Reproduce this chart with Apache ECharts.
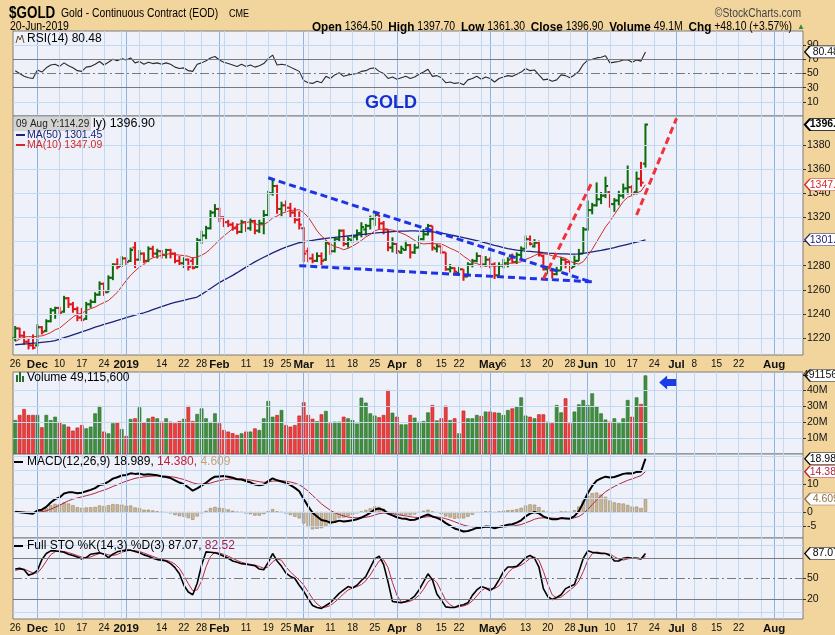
<!DOCTYPE html>
<html>
<head>
<meta charset="utf-8">
<title>$GOLD</title>
<script src="https://cdn.jsdelivr.net/npm/echarts@6/dist/echarts.min.js"></script>
<style>
  html, body { margin: 0; padding: 0; background: #f2d59c; }
  #chart { width: 835px; height: 635px; }
</style>
</head>
<body>
<div id="chart"></div>
<script>
// trading calendar
const FIRST_DAY = '2018-11-26'
const LAST_DAY = '2019-08-09'
const CLOSED = ['2018-12-25', '2019-01-01', '2019-01-21', '2019-02-18', '2019-04-19', '2019-05-27', '2019-07-04']

// x-axis tick labels
const monthTicks = [['2018-12-03', 'Dec'], ['2019-01-02', '2019'], ['2019-02-01', 'Feb'], ['2019-03-01', 'Mar'],
  ['2019-04-01', 'Apr'], ['2019-05-01', 'May'], ['2019-06-03', 'Jun'], ['2019-07-01', 'Jul'], ['2019-08-01', 'Aug']]
const dayTicks = [['2018-11-26', '26'], ['2018-12-10', '10'], ['2018-12-17', '17'], ['2018-12-24', '24'],
  ['2019-01-14', '14'], ['2019-01-22', '22'], ['2019-01-28', '28'], ['2019-02-11', '11'], ['2019-02-19', '19'],
  ['2019-02-25', '25'], ['2019-03-11', '11'], ['2019-03-18', '18'], ['2019-03-25', '25'], ['2019-04-08', '8'],
  ['2019-04-15', '15'], ['2019-04-22', '22'], ['2019-05-06', '6'], ['2019-05-13', '13'], ['2019-05-20', '20'],
  ['2019-05-28', '28'], ['2019-06-10', '10'], ['2019-06-17', '17'], ['2019-06-24', '24'], ['2019-07-08', '8'],
  ['2019-07-15', '15'], ['2019-07-22', '22']]

// y-axis tick labels
const rsiTicks = [10, 30, 50, 70, 90]
const priceTicks = [1220, 1240, 1260, 1280, 1300, 1320, 1340, 1360, 1380]
const volumeTicks = [10, 20, 30, 40]
const macdTicks = [-5, 0, 10]
const stoTicks = [20, 50]

// daily bars
const open = [1220, 1228, 1222, 1217, 1214, 1214, 1229, 1226, 1234, 1243,
  1245, 1242, 1253, 1248, 1244, 1237, 1236, 1248, 1250, 1256,
  1265, 1258, 1270, 1281, 1280, 1286, 1284, 1295, 1285, 1290,
  1284, 1294, 1290, 1292, 1289, 1293, 1290, 1284, 1282, 1285,
  1284, 1279, 1301, 1305, 1311, 1324, 1327, 1320, 1316, 1314,
  1311, 1308, 1316, 1311, 1317, 1309, 1315, 1322, 1340, 1346,
  1327, 1330, 1328, 1324, 1318, 1311, 1292, 1286, 1284, 1288,
  1285, 1298, 1292, 1302, 1309, 1298, 1301, 1304, 1307, 1310,
  1313, 1319, 1322, 1315, 1310, 1295, 1298, 1291, 1293, 1297,
  1291, 1295, 1302, 1306, 1313, 1294, 1296, 1291, 1277, 1278,
  1274, 1277, 1271, 1281, 1284, 1288, 1281, 1285, 1281, 1272,
  1280, 1282, 1286, 1283, 1289, 1294, 1302, 1296, 1299, 1288,
  1277, 1276, 1273, 1276, 1285, 1283, 1279, 1284, 1290, 1310,
  1326, 1330, 1335, 1338, 1341, 1331, 1334, 1338, 1344, 1345,
  1341, 1352, 1364.5]
const high = [1230, 1228.6, 1225.8, 1220, 1223, 1231.4, 1230, 1235.6, 1245, 1246,
  1246, 1255, 1254, 1250, 1246, 1245, 1250, 1252, 1258, 1267,
  1266, 1272, 1282, 1286, 1288, 1287, 1295, 1300, 1293, 1291,
  1296, 1296.5, 1294, 1293, 1294, 1294, 1291, 1288, 1287, 1286,
  1287, 1303, 1309, 1313, 1326, 1331, 1328, 1321, 1318, 1316,
  1315, 1318, 1317, 1319, 1318, 1318, 1326, 1342, 1351, 1347,
  1333, 1334, 1332, 1328, 1325, 1312, 1295, 1290, 1291, 1291,
  1301, 1299, 1303.5, 1310, 1310, 1304, 1306, 1310, 1316, 1314.6,
  1321.5, 1324.5, 1322, 1317, 1310, 1303.5, 1298, 1296.5, 1300.7, 1298,
  1298, 1305, 1310.4, 1314.6, 1313, 1298, 1296.5, 1291, 1281.4, 1278.6,
  1279, 1277, 1282.8, 1285.6, 1291, 1288, 1288, 1287, 1282.8, 1282.8,
  1285.6, 1287, 1290, 1291, 1296, 1305, 1305, 1302, 1300.8, 1289,
  1280, 1278, 1279, 1287, 1285.6, 1283, 1288.3, 1293.9, 1312, 1334,
  1332, 1349, 1341, 1353.7, 1341, 1336, 1342, 1348, 1363, 1346.7,
  1358, 1366, 1397.7]
const low = [1217.5, 1220, 1214.7, 1210.6, 1210.6, 1213, 1223, 1225, 1233, 1236,
  1239, 1241, 1245, 1241, 1234, 1234, 1235, 1245, 1249, 1255,
  1255, 1258, 1268, 1277, 1279, 1280, 1283, 1278, 1284, 1282,
  1283, 1287, 1286, 1286, 1286, 1286, 1282, 1280, 1278, 1276,
  1277, 1278, 1298, 1302, 1310, 1320, 1316, 1312, 1312, 1309,
  1306, 1307, 1308, 1309, 1306, 1307, 1306, 1321, 1338, 1323,
  1321, 1325, 1320, 1315, 1310, 1283, 1283, 1282, 1283, 1280,
  1284, 1289, 1291, 1300, 1296, 1295, 1299, 1301, 1303.5, 1305,
  1310, 1313, 1310, 1306, 1292, 1291, 1289.7, 1289.7, 1292.4, 1286,
  1289.7, 1295, 1301, 1305, 1292.4, 1291, 1289.7, 1275.8, 1274.4, 1273,
  1272, 1267.5, 1271, 1278.6, 1282.8, 1278.6, 1279, 1277.8, 1269, 1272,
  1277.8, 1278.6, 1282, 1281.4, 1285, 1294, 1296.8, 1295, 1287.6, 1276,
  1273, 1269.4, 1272, 1276, 1277.8, 1274.4, 1279, 1284, 1290, 1309,
  1322.6, 1329, 1331, 1336, 1328, 1324.6, 1330, 1335.6, 1339, 1338,
  1339, 1345.6, 1361.3]
const close = [1228, 1222, 1217, 1214, 1212, 1229, 1225, 1234, 1243, 1245,
  1241, 1253, 1248, 1244, 1237, 1235, 1248, 1250, 1256, 1265,
  1258, 1270, 1281, 1279, 1286, 1283, 1293, 1285, 1290, 1284,
  1294, 1290, 1292, 1289, 1293, 1290, 1284, 1282, 1285, 1279,
  1278, 1301, 1305, 1311, 1324, 1327, 1320, 1316, 1314, 1311,
  1308, 1316, 1311, 1317, 1309, 1315, 1322, 1340, 1346, 1327,
  1330, 1328, 1324, 1318, 1314, 1290, 1286, 1284, 1288, 1284,
  1299, 1292, 1302, 1309, 1298, 1302, 1304, 1307, 1312, 1313,
  1319, 1322, 1315, 1310, 1295, 1298, 1292, 1294, 1297, 1291,
  1295, 1302, 1306, 1313, 1295, 1296, 1291, 1277, 1278, 1275,
  1277, 1271, 1281, 1284, 1288, 1281, 1285, 1281, 1272, 1280,
  1282, 1285, 1283, 1289, 1294, 1302, 1298, 1299, 1289, 1277,
  1278, 1273, 1276, 1285, 1283, 1278, 1284, 1290, 1310, 1326,
  1330, 1335, 1338, 1346, 1331, 1334, 1338, 1344, 1345, 1340,
  1352, 1348.8, 1396.9]
const ma50 = [1214.5, 1214.8, 1215.1, 1215.4, 1215.8, 1216.1, 1216.5, 1216.9, 1217.3,
  1218.0, 1219.2, 1220.3, 1221.5, 1222.7, 1223.9,
  1225.1, 1226.4, 1227.7, 1229.0, 1230.1, 1231.3, 1232.4,
  1233.5, 1234.6, 1235.8, 1237.0, 1238.1, 1239.1, 1240.0, 1241.0,
  1242.2, 1243.6, 1244.9, 1246.1, 1247.3, 1248.5,
  1249.5, 1250.4, 1251.3, 1252.2, 1253.1, 1254.0,
  1256.2, 1258.6, 1261.1, 1263.6, 1266.0, 1268.0, 1270.0, 1272.0,
  1274.2, 1276.5, 1278.8, 1281.0, 1283.1, 1285.1, 1287.0,
  1288.8, 1290.6, 1292.3, 1293.9, 1295.3, 1296.6, 1297.8, 1299.0,
  1299.7, 1300.4, 1301.0, 1301.6, 1302.1, 1302.6, 1303.0,
  1303.4, 1303.8, 1304.2, 1304.6, 1305.0, 1305.4, 1305.8, 1306.2, 1306.6, 1307.0, 1307.3, 1307.6, 1307.9, 1308.2, 1308.4, 1308.6,
  1308.7, 1308.8, 1308.8, 1308.7, 1308.5, 1308.3, 1308.0,
  1307.6, 1307.0, 1306.3, 1305.6, 1304.8, 1304.0, 1303.2, 1302.4, 1301.6, 1300.8,
  1299.8, 1298.8, 1297.8, 1296.8, 1295.9, 1295.0, 1294.2, 1293.5, 1292.9, 1292.5,
  1292.1, 1291.8, 1291.5, 1291.2,
  1290.7, 1290.4, 1290.2, 1290.0, 1289.8, 1289.7, 1289.6, 1289.6, 1289.7,
  1290.2, 1290.8, 1291.4, 1292.0, 1292.6,
  1293.4, 1294.2, 1295.0,
  1295.9, 1296.8, 1297.7, 1298.6,
  1299.5, 1300.4, 1301.45]
const ma10 = [1217.1, 1219.2, 1220.9, 1221.3, 1221.0, 1221.6, 1221.8, 1223.0, 1224.6, 1226.9,
  1228.2, 1231.3, 1234.4, 1237.4, 1239.9, 1240.5, 1242.8, 1244.4, 1245.7, 1247.7,
  1249.4, 1251.1, 1254.4, 1257.9, 1262.8, 1267.6, 1272.1, 1275.6, 1279.0, 1280.9,
  1284.5, 1286.5, 1287.6, 1288.6, 1289.3, 1290.0, 1289.1, 1288.8, 1288.3, 1287.8,
  1286.2, 1287.3, 1288.6, 1290.8, 1293.9, 1297.6, 1301.2, 1304.6, 1307.5, 1310.7,
  1313.7, 1315.2, 1315.8, 1316.4, 1314.9, 1313.7, 1313.9, 1316.3, 1319.5, 1321.1,
  1323.3, 1324.5, 1325.8, 1325.9, 1326.4, 1323.9, 1320.3, 1314.7, 1308.9, 1304.6,
  1301.5, 1297.9, 1295.7, 1294.8, 1293.2, 1294.4, 1296.2, 1298.5, 1300.9, 1303.8,
  1305.8, 1308.8, 1310.1, 1310.2, 1309.9, 1309.5, 1308.3, 1307.0, 1305.5, 1303.3,
  1300.9, 1298.9, 1298.0, 1298.3, 1298.3, 1298.1, 1298.0, 1296.3, 1294.4, 1292.8,
  1291.0, 1287.9, 1285.4, 1282.5, 1281.8, 1280.3, 1279.7, 1280.1, 1279.5, 1280.0,
  1280.5, 1281.9, 1282.1, 1282.6, 1283.2, 1285.3, 1286.6, 1288.4, 1290.1, 1289.8,
  1289.4, 1288.2, 1287.5, 1287.1, 1286.0, 1283.6, 1282.2, 1281.3, 1283.4, 1288.3,
  1293.5, 1299.7, 1305.9, 1312.0, 1316.8, 1322.4, 1327.8, 1333.2, 1336.7, 1338.1,
  1340.3, 1341.7, 1347.09]

// volume in millions
const volume = [21.2, 24.4, 28.1, 24.4, 24.4, 24.4, 16.7, 24.4, 21.2, 23.3,
  20.0, 18.5, 17.1, 14.6, 16.5, 18.1, 16.0, 17.1, 25.4, 30.0,
  14.0, 12.9, 19.2, 19.8, 15.6, 11.2, 21.9, 22.3, 29.2, 19.8,
  22.3, 23.3, 22.3, 20.2, 22.3, 20.2, 19.2, 20.6, 22.0, 30.0,
  20.6, 25.0, 28.5, 22.3, 20.0, 25.4, 19.2, 15.0, 14.0, 13.0,
  11.9, 12.9, 14.0, 14.0, 16.0, 15.0, 22.3, 33.1, 23.3, 24.4,
  27.5, 18.1, 17.1, 18.1, 24.0, 32.3, 24.4, 22.0, 20.5, 24.8,
  26.9, 19.2, 20.2, 20.2, 23.3, 22.3, 21.2, 19.0, 35.2, 32.1,
  25.4, 24.0, 23.0, 24.4, 40.0, 25.8, 23.3, 18.5, 18.5, 24.4,
  22.7, 20.2, 20.6, 26.0, 30.6, 21.0, 22.3, 30.2, 21.2, 22.3,
  12.9, 27.1, 22.3, 22.3, 24.4, 23.75, 26.5, 26.5, 26.0, 25.8,
  24.4, 27.5, 28.5, 29.5, 35.4, 24.0, 23.3, 22.3, 24.8, 24.8,
  20.2, 19.2, 30.6, 26.0, 34.8, 19.2, 26.5, 31.0, 33.75, 30.6,
  37.9, 29.6, 25.4, 21.5, 20.2, 22.3, 19.2, 22.3, 33.75, 23.3,
  35.4, 31.25, 49.1156]

// indicators
const rsi = [54, 50, 46, 44, 43, 55, 52, 58, 62, 63,
  60, 65, 61, 58, 54, 53, 59, 60, 63, 67,
  62, 66, 70, 68, 71, 69, 72, 65, 67, 63,
  66, 64, 65, 63, 65, 63, 59, 57, 58, 54,
  53, 63, 65, 68, 72, 74, 69, 66, 64, 62,
  60, 63, 60, 62, 59, 61, 64, 71, 76, 62,
  63, 62, 59, 56, 53, 40, 37, 36, 39, 37,
  46, 43, 48, 51, 46, 48, 49, 50, 53, 54,
  57, 58, 53, 50, 43, 45, 42, 44, 46, 43,
  45, 49, 52, 56, 46, 47, 44, 37, 38, 36,
  37, 34, 41, 43, 46, 42, 45, 43, 38, 43,
  45, 47, 46, 49, 52, 57, 54, 55, 48, 41,
  42, 39, 41, 48, 47, 44, 48, 53, 63, 69,
  70, 72, 73, 75, 65, 66, 67, 69, 69.5, 66,
  69, 67.5, 80.48]
const macd = [0.1, -0.1, -0.3, -0.5, -0.6, 0.5, 0.8, 1.8, 3.4, 4.6,
  5.2, 6.6, 7.0, 7.0, 6.7, 6.9, 7.4, 7.9, 8.5, 9.6,
  9.9, 10.8, 11.9, 12.4, 13.0, 13.2, 13.8, 13.6, 13.7, 13.3,
  13.5, 13.3, 13.1, 12.7, 12.5, 12.1, 11.3, 10.5, 9.9, 8.8,
  7.6, 8.4, 9.4, 10.4, 11.7, 12.6, 12.7, 12.8, 12.6, 12.2,
  11.7, 11.6, 11.0, 10.6, 9.8, 9.5, 9.8, 11.0, 12.0, 11.3,
  10.9, 10.4, 9.6, 8.6, 7.4, 4.6, 2.0, -0.3, -1.6, -2.9,
  -3.2, -3.8, -3.6, -3.1, -3.4, -3.2, -3.0, -2.6, -2.0, -1.2,
  -0.3, 0.9, 1.2, 0.7, -0.6, -1.2, -1.9, -2.3, -2.4, -2.9,
  -2.8, -2.2, -1.5, -0.9, -1.6, -2.1, -2.8, -4.0, -4.9, -5.9,
  -6.4, -7.0, -6.8, -6.3, -5.7, -5.6, -5.2, -5.3, -5.8, -5.4,
  -5.0, -4.6, -4.4, -3.8, -3.0, -1.6, -0.6, 0.0, -0.5, -1.6,
  -2.2, -2.6, -2.6, -2.2, -2.3, -2.4, -1.5, 0.3, 3.4, 6.7,
  9.3, 11.2, 12.0, 12.6, 12.3, 12.5, 13.0, 13.6, 13.8, 13.7,
  14.3, 14.4, 18.989]
const macdSignal = [0.0, 0.0, -0.1, -0.1, -0.2, -0.1, 0.1, 0.4, 1.0, 1.7,
  2.4, 3.2, 4.0, 4.6, 5.0, 5.4, 5.8, 6.2, 6.7, 7.3,
  7.8, 8.4, 9.1, 9.7, 10.4, 11.0, 11.5, 12.0, 12.3, 12.5,
  12.7, 12.8, 12.9, 12.8, 12.8, 12.6, 12.4, 12.0, 11.6, 11.0,
  10.4, 10.0, 9.9, 10.0, 10.3, 10.8, 11.2, 11.5, 11.7, 11.8,
  11.8, 11.8, 11.6, 11.4, 11.1, 10.8, 10.6, 10.7, 11.0, 11.1,
  11.1, 11.0, 10.7, 10.3, 9.7, 8.7, 7.4, 5.9, 4.4, 2.9,
  1.7, 0.6, -0.3, -0.9, -1.4, -1.8, -2.0, -2.1, -2.1, -1.9,
  -1.6, -1.1, -0.6, -0.4, -0.4, -0.6, -0.9, -1.2, -1.4, -1.7,
  -1.9, -2.0, -1.9, -1.7, -1.7, -1.8, -2.0, -2.4, -2.9, -3.5,
  -4.1, -4.7, -5.1, -5.3, -5.4, -5.4, -5.4, -5.4, -5.5, -5.5,
  -5.4, -5.2, -5.1, -4.8, -4.5, -3.9, -3.3, -2.6, -2.2, -2.1,
  -2.1, -2.2, -2.3, -2.3, -2.3, -2.3, -2.1, -1.6, -0.6, 0.9,
  2.6, 4.3, 5.8, 7.2, 8.2, 9.1, 9.9, 10.6, 11.3, 11.8,
  12.4, 13.0, 14.38]
const macdHist = [0.1, -0.1, -0.2, -0.4, -0.4, 0.6, 0.7, 1.4, 2.4, 2.9,
  2.8, 3.4, 3.0, 2.4, 1.7, 1.5, 1.6, 1.7, 1.8, 2.3,
  2.1, 2.4, 2.8, 2.7, 2.6, 2.2, 2.3, 1.6, 1.4, 0.8,
  0.8, 0.5, 0.2, -0.1, -0.3, -0.5, -1.1, -1.5, -1.7, -2.2,
  -2.8, -1.6, -0.5, 0.4, 1.4, 1.8, 1.5, 1.3, 0.9, 0.4,
  -0.1, -0.2, -0.6, -0.8, -1.3, -1.3, -0.8, 0.3, 1.0, 0.2,
  -0.2, -0.6, -1.1, -1.7, -2.3, -4.1, -5.4, -6.2, -6.0, -5.8,
  -4.9, -4.4, -3.3, -2.2, -2.0, -1.4, -1.0, -0.5, 0.1, 0.7,
  1.3, 2.0, 1.8, 1.1, -0.2, -0.6, -1.0, -1.1, -1.0, -1.2,
  -0.9, -0.2, 0.4, 0.8, 0.1, -0.3, -0.8, -1.6, -2.0, -2.4,
  -2.3, -2.3, -1.7, -1.0, -0.3, -0.2, 0.2, 0.1, -0.3, 0.1,
  0.4, 0.6, 0.7, 1.0, 1.5, 2.3, 2.7, 2.6, 1.7, 0.5,
  -0.1, -0.4, -0.3, 0.1, 0.0, -0.1, 0.6, 1.9, 4.0, 5.8,
  6.7, 6.9, 6.2, 5.4, 4.1, 3.4, 3.1, 3.0, 2.5, 1.9,
  1.9, 1.4, 4.609]
const stoK = [64, 65, 63, 55, 57, 62, 78, 87, 91, 91,
  90, 89, 86, 84, 82, 79, 81, 86, 87, 88,
  86, 81, 86, 89.5, 91, 92, 92, 90, 88, 85,
  83, 80, 78, 77, 76, 72, 66, 57, 40, 30,
  26, 43, 70, 89.5, 89, 88, 86, 83, 80, 76,
  74, 72, 71, 70, 69, 64, 63, 74, 87, 76,
  68, 58, 53, 50, 40, 31, 20, 10, 7, 5.7,
  10, 14, 21, 28, 33, 38, 36, 40, 47, 53,
  66, 79, 83, 71, 45, 16, 15, 14, 16, 19,
  24, 33, 45, 57, 48, 27, 18, 8, 7, 7,
  10, 11, 14, 25, 33, 38, 36, 32, 37, 48,
  60, 67, 67, 68, 74, 81, 84, 80, 67, 35,
  23, 19, 22, 26, 35, 38, 41, 60, 80, 91,
  89, 88, 87, 87, 84, 76, 76, 80, 81, 80,
  80, 79, 87.07]
const stoD = [62, 63.5, 64, 61, 58.3, 58, 65.7, 75.7, 85.3, 89.7,
  90.7, 90, 88.3, 86.3, 84, 81.7, 80.7, 82, 84.7, 87,
  87, 85, 84.3, 85.5, 88.8, 90.8, 91.7, 91.3, 90, 87.7,
  85.3, 82.7, 80.3, 78.3, 77, 75, 71.3, 65, 54.3, 42.3,
  32, 33, 46.3, 67.5, 82.8, 88.8, 87.7, 85.7, 83, 79.7,
  76.7, 74, 72.3, 71, 70, 67.7, 65.3, 67, 74.7, 79,
  77, 67.3, 59.7, 53.7, 47.7, 40.3, 30.3, 20.3, 12.3, 7.6,
  7.6, 9.9, 15, 21, 27.3, 33, 35.7, 38, 41, 46.7,
  55.3, 66, 76, 77.7, 66.3, 44, 25.3, 15, 15, 16.3,
  19.7, 25.3, 34, 45, 50, 44, 31, 17.7, 11, 7.3,
  8, 9.3, 11.7, 16.7, 24, 32, 35.7, 35.3, 35, 39,
  48.3, 58.3, 64.7, 67.3, 69.7, 74.3, 79.7, 81.7, 77, 60.7,
  41.7, 25.7, 21.3, 22.3, 27.7, 33, 38, 46.3, 60.3, 77,
  86.7, 89.3, 88, 87.3, 86, 82.3, 78.7, 77.3, 79, 80.3,
  80.3, 79.7, 82.52]

// hand-drawn trend lines: [from date, from price, to date, to price]
const blueTrends = [['2019-02-19', 1352.8, '2019-06-04', 1266.2], ['2019-02-28', 1280, '2019-06-04', 1266.6]]
const redTrends = [['2019-05-17', 1269, '2019-06-04', 1349.4], ['2019-06-18', 1322, '2019-07-01', 1402]]
const arrowAt = ['2019-06-27', 44.7]

const SANS = '"Liberation Sans", Arial, sans-serif'
const PLOT_BG = '#eff1fa'
const BORDER = '#7c7c7c'
const WEEK_LINE = '#c3d9ef'
const MONTH_LINE = '#8fb5de'
const LEVEL_LINE = '#7a7a7a'
const GREEN = '#0b6b0b'
const RED = '#e0161b'

function tradingDays(first, last, closed) {
  const out = []
  const end = Date.parse(last + 'T00:00:00Z')
  for (let t = Date.parse(first + 'T00:00:00Z'); t <= end; t += 86400000) {
    const d = new Date(t)
    const s = d.toISOString().slice(0, 10)
    if (d.getUTCDay() === 0 || d.getUTCDay() === 6 || closed.includes(s)) continue
    out.push(s)
  }
  return out
}

const dates = tradingDays(FIRST_DAY, LAST_DAY, CLOSED)
const lastDate = dates[dates.length - 1]
const weekOf = s => Math.floor((Date.parse(s + 'T00:00:00Z') / 86400000 + 3) / 7)
const monthStarts = dates.filter((d, i) => i > 0 && d.slice(5, 7) !== dates[i - 1].slice(5, 7))
const weekStarts = dates.filter((d, i) => i > 0 && weekOf(d) !== weekOf(dates[i - 1]) && !monthStarts.includes(d))

const labelText = {}
monthTicks.forEach(([d, t]) => { labelText[d] = '{m|' + t + '}' })
dayTicks.forEach(([d, t]) => { labelText[d] = '{d|' + t + '}' })

const isUp = i => (i === 0 ? close[0] >= open[0] : close[i] >= close[i - 1])
const last = arr => arr[arr.length - 1]

const TAG = 'path://M0,6 L6,0 L40,0 L40,12 L6,12 Z'
function tag(value, text, color, bold) {
  return {
    coord: [lastDate, value],
    symbol: TAG,
    symbolSize: [36, 12],
    symbolKeepAspect: false,
    symbolOffset: [22, 0],
    itemStyle: { color: '#fff', borderColor: color, borderWidth: bold ? 1.5 : 1 },
    label: {
      show: true, position: 'inside', offset: [3, 0], formatter: text, color,
      fontFamily: SANS, fontSize: 10.5, fontWeight: bold ? 'bold' : 'normal'
    }
  }
}

function gridLines(i, levels) {
  const data = []
  weekStarts.forEach(d => data.push({ xAxis: d, lineStyle: { color: WEEK_LINE, width: 1, type: 'solid' } }))
  monthStarts.forEach(d => data.push({ xAxis: d, lineStyle: { color: MONTH_LINE, width: 1, type: 'solid' } }))
  levels.forEach(([v, color, type]) => data.push({ yAxis: v, lineStyle: { color, width: 1, type: type || 'solid' } }))
  return {
    type: 'line', xAxisIndex: i, yAxisIndex: i, data: [], z: 1, silent: true,
    markLine: { silent: true, symbol: ['none', 'none'], animation: false, label: { show: false }, data }
  }
}

const panels = [
  { top: 31, height: 85 },
  { top: 116, height: 239 },
  { top: 372, height: 82 },
  { top: 454, height: 84 },
  { top: 538, height: 84 }
]

const xAxes = panels.map((p, i) => ({
  type: 'category', gridIndex: i, data: dates, boundaryGap: true,
  axisLine: { show: false }, axisTick: { show: false }, splitLine: { show: false },
  axisLabel: {
    show: i === 1 || i === 4,
    interval: (idx, val) => labelText[val] !== undefined,
    formatter: val => labelText[val] || '',
    margin: 4,
    rich: {
      m: { fontFamily: SANS, fontWeight: 'bold', fontSize: 11.5, color: '#111' },
      d: { fontFamily: SANS, fontSize: 10, color: '#111' }
    }
  }
}))

function yAxis(i, min, max, ticks, fmt) {
  return {
    type: 'value', gridIndex: i, position: 'right', min, max, scale: true,
    axisLine: { show: false }, splitLine: { show: false },
    axisTick: { show: true, length: 3, customValues: ticks, lineStyle: { color: '#333' } },
    axisLabel: {
      customValues: ticks, margin: 4, fontFamily: SANS, fontSize: 10.5, color: '#111',
      formatter: fmt || (v => String(v))
    }
  }
}

const barData = open.map((o, i) => [i, o, high[i], low[i], close[i]])

function renderBar(params, api) {
  const i = api.value(0)
  const x = api.coord([i, api.value(1)])[0]
  const yo = api.coord([i, api.value(1)])[1]
  const yh = api.coord([i, api.value(2)])[1]
  const yl = api.coord([i, api.value(3)])[1]
  const yc = api.coord([i, api.value(4)])[1]
  const color = isUp(i) ? GREEN : RED
  return {
    type: 'group',
    children: [
      { type: 'line', shape: { x1: x, y1: yh, x2: x, y2: yl }, style: { stroke: color, lineWidth: 2 } },
      { type: 'line', shape: { x1: x - 2.6, y1: yo, x2: x, y2: yo }, style: { stroke: color, lineWidth: 2 } },
      { type: 'line', shape: { x1: x, y1: yc, x2: x + 2.6, y2: yc }, style: { stroke: color, lineWidth: 2 } }
    ]
  }
}

function trendLine(t, color) {
  return [
    { coord: [t[0], t[1]], lineStyle: { color, width: 3, type: [7, 4] } },
    { coord: [t[2], t[3]] }
  ]
}

const lineSeries = (i, data, color, width, extra) => Object.assign({
  type: 'line', xAxisIndex: i, yAxisIndex: i, data, showSymbol: false, symbol: 'none',
  lineStyle: { color, width }, itemStyle: { color }, silent: true, z: 3
}, extra || {})

const series = [
  gridLines(0, [[10, WEEK_LINE], [90, WEEK_LINE], [30, LEVEL_LINE], [70, LEVEL_LINE], [50, LEVEL_LINE, [9, 3, 2, 3]]]),
  gridLines(1, priceTicks.map(v => [v, WEEK_LINE])),
  gridLines(2, volumeTicks.map(v => [v, WEEK_LINE])),
  gridLines(3, [-5, 0, 5, 10, 15, 20].map(v => [v, WEEK_LINE])),
  gridLines(4, [[0, WEEK_LINE], [100, WEEK_LINE], [20, LEVEL_LINE], [80, LEVEL_LINE], [50, LEVEL_LINE, [9, 3, 2, 3]]]),

  lineSeries(0, rsi, '#2b2b2b', 1.1, {
    markPoint: { silent: true, animation: false, data: [tag(last(rsi), last(rsi).toFixed(2), '#111', false)] }
  }),

  {
    type: 'custom', xAxisIndex: 1, yAxisIndex: 1, data: barData, renderItem: renderBar,
    encode: { x: 0, y: [1, 2, 3, 4] }, silent: true, z: 3,
    markPoint: { silent: true, animation: false, data: [tag(last(close), last(close).toFixed(1), '#000', true)] }
  },
  lineSeries(1, ma50, '#1c2378', 1.3, {
    markPoint: { silent: true, animation: false, data: [tag(last(ma50), last(ma50).toFixed(1), '#1c2378', false)] }
  }),
  lineSeries(1, ma10, '#d22a2a', 1, {
    markPoint: { silent: true, animation: false, data: [tag(last(ma10), last(ma10).toFixed(1), '#d22a2a', false)] }
  }),
  {
    type: 'line', xAxisIndex: 1, yAxisIndex: 1, data: [], z: 5, silent: true, clip: false,
    markLine: {
      silent: true, symbol: ['none', 'none'], animation: false, label: { show: false },
      data: blueTrends.map(t => trendLine(t, '#1f33e6')).concat(redTrends.map(t => trendLine(t, '#f2323a')))
    }
  },

  {
    type: 'bar', xAxisIndex: 2, yAxisIndex: 2, barCategoryGap: '18%', silent: true, z: 3,
    data: volume.map((v, i) => ({
      value: v,
      itemStyle: isUp(i)
        ? { color: '#3f8f3f', borderColor: '#2c6e2c', borderWidth: 0.6 }
        : { color: '#f03c3c', borderColor: '#b52222', borderWidth: 0.6 }
    })),
    markPoint: {
      silent: true, animation: false,
      data: [
        tag(last(volume), '49115600', '#111', false),
        {
          coord: arrowAt, symbol: 'path://M0,7 L8,0 L8,3.5 L17,3.5 L17,10.5 L8,10.5 L8,14 Z',
          symbolSize: [17, 14], symbolKeepAspect: false, itemStyle: { color: '#1b3de6' }, label: { show: false }
        }
      ]
    }
  },

  {
    type: 'bar', xAxisIndex: 3, yAxisIndex: 3, data: macdHist, barCategoryGap: '25%', silent: true, z: 2,
    itemStyle: { color: '#cbb796', borderColor: '#8f7b58', borderWidth: 0.5 },
    markPoint: { silent: true, animation: false, data: [tag(last(macdHist), last(macdHist).toFixed(3), '#8f7048', false)] }
  },
  lineSeries(3, macdSignal, '#b3243c', 1, {
    markPoint: { silent: true, animation: false, data: [tag(last(macdSignal), '14.380', '#b3243c', false)] }
  }),
  lineSeries(3, macd, '#000', 2, {
    markPoint: { silent: true, animation: false, data: [tag(last(macd), last(macd).toFixed(3), '#000', false)] }
  }),

  lineSeries(4, stoD, '#c02848', 1),
  lineSeries(4, stoK, '#000', 1.6, {
    markPoint: { silent: true, animation: false, data: [tag(last(stoK), last(stoK).toFixed(2), '#000', false)] }
  })
]

// text helper; sx squeezes the text horizontally to mimic the narrow face
const t = (x, y, text, style, sx) => ({
  type: 'text', x, y, scaleX: sx || 1, silent: true, z: 100,
  style: Object.assign({ text, textVerticalAlign: 'middle', fill: '#000', fontFamily: SANS, fontSize: 12 }, style)
})
const dash = (x, y, color) => ({
  type: 'line', silent: true, z: 100, shape: { x1: x, y1: y, x2: x + 9, y2: y }, style: { stroke: color, lineWidth: 2 }
})

const graphic = [
  t(9, 14, '$GOLD', { fontWeight: 'bold', fontSize: 16 }, 0.84),
  t(61, 14, 'Gold - Continuous Contract (EOD)', { fontSize: 12 }, 0.86),
  t(229, 14, 'CME', { fontSize: 10.5 }, 0.86),
  t(10, 27, '20-Jun-2019', { fontSize: 12.5 }, 0.84),
  t(801, 14, '\u00a9StockCharts.com', { fontSize: 12, fill: '#444', textAlign: 'right' }, 0.86),
  t(792, 27, '{b|Open} {n|1364.50}  {b|High} {n|1397.70}  {b|Low} {n|1361.30}  {b|Close} {n|1396.90}  {b|Volume} {n|49.1M}  {b|Chg} {n|+48.10 (+3.57%)}', {
    textAlign: 'right',
    rich: {
      b: { fontFamily: SANS, fontWeight: 'bold', fontSize: 13.5, fill: '#000' },
      n: { fontFamily: SANS, fontSize: 12, fill: '#000' }
    }
  }, 0.87),
  t(797, 27, '\u25b2', { fontSize: 8, fill: '#2e8b2e' }),

  { type: 'polyline', silent: true, z: 100, shape: { points: [[16, 43], [18, 36], [20, 40], [22, 35], [24, 43]] }, style: { stroke: '#6a4c2a', fill: null, lineWidth: 1 } },
  t(27, 39, 'RSI(14) 80.48', { fontSize: 12 }),
  t(391, 103, 'GOLD', { fontWeight: 'bold', fontSize: 18, fill: '#1530cf', textAlign: 'center' }),

  { type: 'rect', silent: true, z: 100, shape: { x: 14, y: 117, width: 77, height: 14 }, style: { fill: '#d3d3d3' } },
  t(16, 124, '09 Aug Y:114.29', { fontSize: 10, fill: '#222' }),
  t(93, 124, 'ly) 1396.90', { fontSize: 12.5 }),
  dash(16, 135, '#1c2378'),
  t(27, 135, 'MA(50) 1301.45', { fontSize: 10.5, fill: '#1c2378' }),
  dash(16, 145, '#d22a2a'),
  t(27, 145, 'MA(10) 1347.09', { fontSize: 10.5, fill: '#d22a2a' }),

  { type: 'rect', silent: true, z: 100, shape: { x: 16, y: 375, width: 2, height: 7 }, style: { fill: '#2c6e2c' } },
  { type: 'rect', silent: true, z: 100, shape: { x: 19, y: 372, width: 2, height: 10 }, style: { fill: '#2c6e2c' } },
  { type: 'rect', silent: true, z: 100, shape: { x: 22, y: 376, width: 2, height: 6 }, style: { fill: '#2c6e2c' } },
  t(27, 378, 'Volume 49,115,600', { fontSize: 12 }),

  dash(14, 462, '#000'),
  t(27, 462, '{k|MACD(12,26,9) 18.989,} {r|14.380,} {h|4.609}', {
    rich: {
      k: { fontFamily: SANS, fontSize: 12, fill: '#000' },
      r: { fontFamily: SANS, fontSize: 12, fill: '#c0203a' },
      h: { fontFamily: SANS, fontSize: 12, fill: '#c2a47c' }
    }
  }),

  dash(14, 546, '#000'),
  t(27, 546, '{k|Full STO %K(14,3) %D(3) 87.07,} {r|82.52}', {
    rich: {
      k: { fontFamily: SANS, fontSize: 12, fill: '#000' },
      r: { fontFamily: SANS, fontSize: 12, fill: '#9c1f52' }
    }
  })
]

const chart = echarts.init(document.getElementById('chart'), null, { renderer: 'canvas' })
chart.setOption({
  animation: false,
  backgroundColor: '#f2d59c',
  grid: panels.map(p => ({
    left: 13, right: 32, top: p.top, height: p.height, show: true,
    backgroundColor: PLOT_BG, borderColor: BORDER, borderWidth: 1
  })),
  xAxis: xAxes,
  yAxis: [
    yAxis(0, -10, 110, rsiTicks),
    yAxis(1, 1206, 1404, priceTicks),
    yAxis(2, 0, 51.25, volumeTicks, v => v + 'M'),
    yAxis(3, -9.3, 20.7, macdTicks),
    yAxis(4, -10, 110, stoTicks)
  ],
  series,
  graphic
})
</script>
</body>
</html>
